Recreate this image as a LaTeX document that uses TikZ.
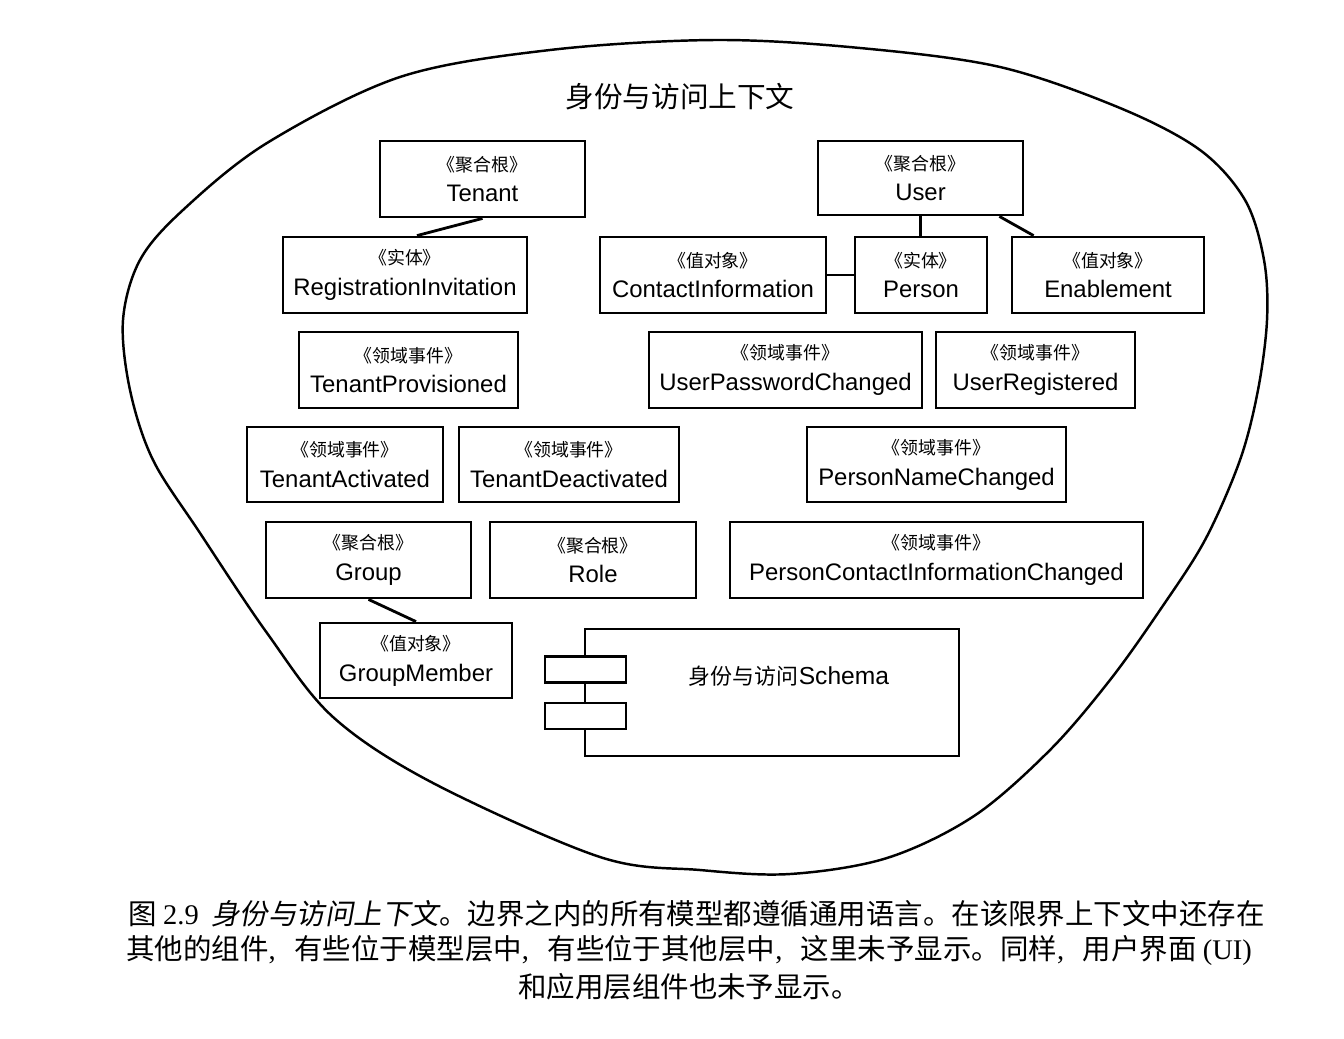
\documentclass[tikz,border=0pt]{standalone}
\usepackage{fontspec}
\setmainfont{Liberation Sans}
\newfontfamily\cjk{Noto Sans CJK SC}
\newfontfamily\cjkslant[FakeSlant=0.18]{Noto Sans CJK SC}
\newfontfamily\capserif{Liberation Serif}
\usetikzlibrary{calc}
\newcommand\stfont{\cjk\fontsize{10.2pt}{17.6pt}\selectfont}
\newcommand\umlbox[7]{\node[ubox, minimum width={(#4-#2)*0.02cm}, minimum height={(#5-#3)*0.02cm}] (#1) at ({(#2+#4)/2},{(#3+#5)/2}) {{\stfont 《#6》}\\#7};}
\tikzset{
  ubox/.style={draw, line width=1.6pt, rectangle, inner sep=0pt, align=center,
    font=\fontsize{13.6pt}{17.6pt}\selectfont},
  conn/.style={line width=1.6pt},
  blob/.style={line width=1.4pt},
  capline/.style={inner sep=0pt, font=\cjk\fontsize{16.2pt}{20pt}\selectfont}
}
\begin{document}
\begin{tikzpicture}[x=0.02cm, y=-0.02cm]
\useasboundingbox (0,0) rectangle (1344,1038);
% outer boundary
\draw[blob] plot[smooth cycle, tension=0.55] coordinates {(715,40) (860,48) (1000,67) (1120,108) (1200,150) (1245,200) (1264,260) (1267,320) (1258,390) (1240,460) (1205,540) (1160,610) (1110,680) (1050,750) (974,816) (887,858) (790,874) (700,870) (600,857) (433,783) (333,717) (267,633) (200,533) (153,460) (130,390) (123,320) (140,260) (183,210) (267,143) (400,77) (550,50)};
\node (title) at (680,97) {\cjk\fontsize{16.3pt}{20pt}\selectfont 身份与访问上下文};
% boxes
\umlbox{tenant}{380}{141}{585}{217}{聚合根}{Tenant}
\umlbox{user}{818}{141}{1023}{215}{聚合根}{User}
\umlbox{reginv}{283}{237}{527}{313}{实体}{RegistrationInvitation}
\umlbox{contact}{600}{237}{826}{313}{值对象}{ContactInformation}
\umlbox{person}{855}{237}{987}{313}{实体}{Person}
\umlbox{enable}{1012}{237}{1204}{313}{值对象}{Enablement}
\umlbox{tprov}{299}{332}{518}{408}{领域事件}{TenantProvisioned}
\umlbox{upwd}{649}{332}{922}{408}{领域事件}{UserPasswordChanged}
\umlbox{ureg}{936}{332}{1135}{408}{领域事件}{UserRegistered}
\umlbox{tact}{247}{427}{443}{502}{领域事件}{TenantActivated}
\umlbox{tdeact}{459}{427}{679}{502}{领域事件}{TenantDeactivated}
\umlbox{pname}{807}{427}{1066}{502}{领域事件}{PersonNameChanged}
\umlbox{group}{266}{522}{471}{598}{聚合根}{Group}
\umlbox{role}{490}{522}{696}{598}{聚合根}{Role}
\umlbox{pcontact}{730}{522}{1143}{598}{领域事件}{PersonContactInformationChanged}
\umlbox{gmember}{320}{623}{512}{698}{值对象}{GroupMember}
% component
\node[draw, line width=1.6pt, inner sep=0pt, minimum width={(959-585)*0.02cm}, minimum height={(756-629)*0.02cm}] (schema) at (772,692.5) {};
\node[draw, line width=1.6pt, fill=white, inner sep=0pt, minimum width={81*0.02cm}, minimum height={26*0.02cm}] (port1) at (585.5,669.5) {};
\node[draw, line width=1.6pt, fill=white, inner sep=0pt, minimum width={81*0.02cm}, minimum height={26*0.02cm}] (port2) at (585.5,716) {};
\node (schemalabel) at (789,676) {{\cjk\fontsize{12.5pt}{15pt}\selectfont 身份与访问}{\fontsize{14pt}{16pt}\selectfont Schema}};
% connectors
\draw[conn] (tenant.south) -- ([xshift=0.24cm]reginv.north);
\draw[conn] (user.south) -- (user.south |- person.north);
\draw[conn] ([xshift=-0.5cm]user.south east) -- ([xshift=0.46cm]enable.north west);
\draw[conn] (contact.east) -- (person.west);
\draw[conn] (group.south) -- (gmember.north);
% caption
\node[capline, anchor=west] (cap1) at (128,914) {图\ {\capserif 2.9}\ \ {\cjkslant 身份与访问上下文}。边界之内的所有模型都遵循通用语言。在该限界上下文中还存在};
\node[capline, anchor=west] (cap2) at (126,950) {其他的组件{\capserif ,}\hspace{0.65em}有些位于模型层中{\capserif ,}\hspace{0.65em}有些位于其他层中{\capserif ,}\hspace{0.65em}这里未予显示。同样{\capserif ,}\hspace{0.65em}用户界面 {\capserif (UI)}};
\node[capline] (cap3) at (689,987) {和应用层组件也未予显示。};
\end{tikzpicture}
\end{document}
